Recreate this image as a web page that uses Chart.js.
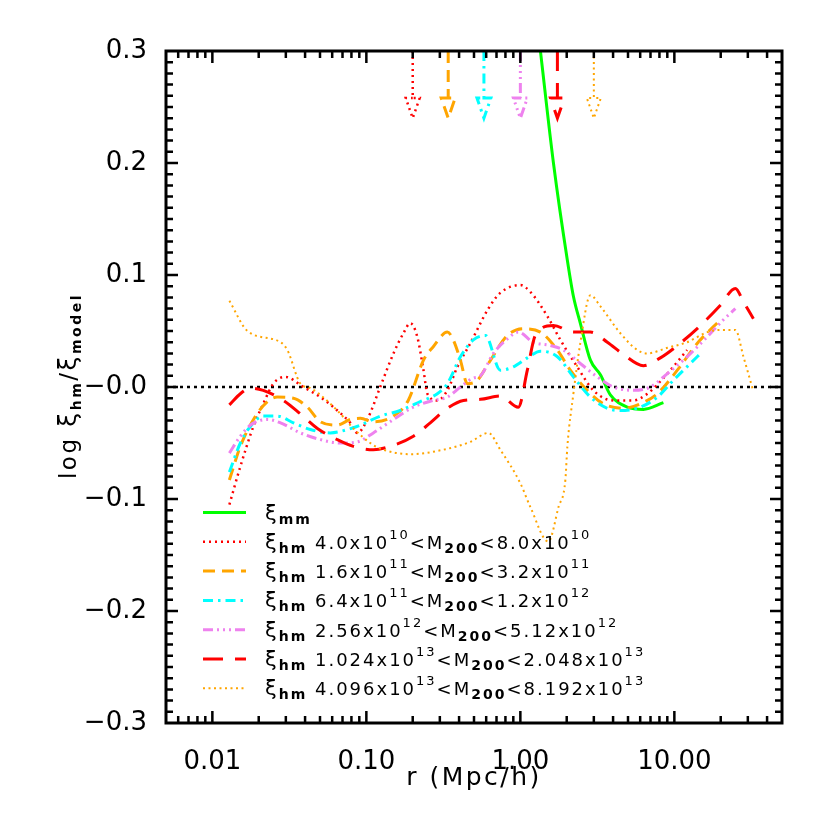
<!DOCTYPE html>
<html>
<head>
<meta charset="utf-8">
<title>log xi_hm / xi_model</title>
<script src="https://cdn.jsdelivr.net/npm/chart.js@4.4.1/dist/chart.umd.min.js"></script>
<style>
  html, body { margin: 0; padding: 0; background: #fff; }
  canvas { display: block; }
</style>
</head>
<body>
<canvas id="chart" width="830" height="830"></canvas>
<script>
// axes
const xRange = [0.005, 50];
const yRange = [-0.3, 0.3];
const xTickValues = [0.01, 0.1, 1, 10];
const xTickLabels = ["0.01", "0.10", "1.00", "10.00"];
const yTickValues = [-0.3, -0.2, -0.1, 0, 0.1, 0.2, 0.3];
const yTickLabels = ["\u22120.3", "\u22120.2", "\u22120.1", "\u22120.0", "0.1", "0.2", "0.3"];

// xi_mm
const rMm = [1.35, 1.64, 2.02, 2.21, 2.45, 2.85, 3.31, 3.84, 4.95, 6.29, 8.49];
const yMm = [0.30, 0.20, 0.113, 0.081, 0.057, 0.024, 0.011, -0.007, -0.018, -0.020, -0.014];

// xi_hm, 4.0e10 < M200 < 8.0e10
const rHm1 = [0.0129, 0.0152, 0.0185, 0.0214, 0.0249, 0.0298, 0.039, 0.0503, 0.0648, 0.0787, 0.0875, 0.1015, 0.123, 0.150, 0.174, 0.193, 0.214, 0.235, 0.249, 0.289, 0.336, 0.390, 0.473, 0.620, 0.741, 1.00, 1.16, 1.50, 1.82, 2.34, 2.98, 4.02, 5.42, 6.68, 9.01, 12.1];
const yHm1 = [-0.105, -0.071, -0.035, -0.015, 0.003, 0.009, 0.000, -0.009, -0.021, -0.032, -0.041, -0.029, 0.000, 0.030, 0.048, 0.057, 0.045, 0.015, -0.006, -0.012, -0.003, 0.018, 0.039, 0.070, 0.084, 0.091, 0.085, 0.063, 0.042, 0.018, -0.003, -0.012, -0.012, -0.006, 0.012, 0.033];

// xi_hm, 1.6e11 < M200 < 3.2e11
const rHm2 = [0.0129, 0.0152, 0.0185, 0.0228, 0.0264, 0.0336, 0.0414, 0.0503, 0.0648, 0.0787, 0.0915, 0.111, 0.150, 0.187, 0.235, 0.272, 0.336, 0.367, 0.408, 0.453, 0.526, 0.620, 0.824, 1.045, 1.35, 1.74, 2.11, 2.72, 3.46, 4.67, 6.01, 7.76, 10.45, 14.1, 19.9];
const yHm2 = [-0.083, -0.053, -0.029, -0.013, -0.009, -0.010, -0.018, -0.031, -0.034, -0.029, -0.028, -0.031, -0.026, -0.012, 0.024, 0.036, 0.049, 0.042, 0.024, 0.003, 0.006, 0.021, 0.046, 0.052, 0.049, 0.033, 0.015, -0.003, -0.015, -0.019, -0.015, -0.006, 0.015, 0.039, 0.060];

// xi_hm, 6.4e11 < M200 < 1.2e12
const rHm3 = [0.0129, 0.0152, 0.0177, 0.0214, 0.0264, 0.0336, 0.0433, 0.0583, 0.0753, 0.0915, 0.123, 0.166, 0.224, 0.289, 0.336, 0.408, 0.495, 0.593, 0.741, 0.901, 1.11, 1.35, 1.74, 2.21, 2.85, 3.67, 4.46, 6.01, 7.76, 9.86, 12.7, 14.8];
const yHm3 = [-0.076, -0.050, -0.035, -0.026, -0.026, -0.032, -0.038, -0.041, -0.038, -0.034, -0.026, -0.021, -0.013, -0.006, 0.003, 0.027, 0.042, 0.046, 0.015, 0.018, 0.026, 0.032, 0.027, 0.009, -0.009, -0.019, -0.021, -0.018, -0.009, 0.006, 0.021, 0.030];

// xi_hm, 2.56e12 < M200 < 5.12e12
const rHm4 = [0.0129, 0.0152, 0.0177, 0.0228, 0.0277, 0.0373, 0.0503, 0.0678, 0.0875, 0.111, 0.150, 0.202, 0.272, 0.336, 0.408, 0.495, 0.550, 0.668, 0.824, 0.970, 1.21, 1.57, 1.90, 2.45, 3.16, 4.02, 5.42, 6.98, 9.01, 12.1, 16.4, 20.8, 24.9];
const yHm4 = [-0.059, -0.044, -0.034, -0.029, -0.032, -0.041, -0.047, -0.050, -0.049, -0.041, -0.029, -0.018, -0.012, -0.009, 0.000, 0.008, 0.010, 0.030, 0.043, 0.049, 0.040, 0.037, 0.033, 0.021, 0.009, 0.000, -0.003, 0.000, 0.012, 0.027, 0.045, 0.060, 0.070];

// xi_hm, 1.024e13 < M200 < 2.048e13
const rHm5 = [0.0129, 0.0152, 0.0177, 0.0214, 0.0289, 0.0373, 0.0481, 0.0648, 0.0824, 0.111, 0.150, 0.202, 0.260, 0.336, 0.427, 0.550, 0.741, 0.970, 1.11, 1.25, 1.64, 2.21, 2.85, 3.67, 4.67, 6.29, 8.11, 10.9, 14.8, 19.9, 24.9, 28.1, 32.6];
const yHm5 = [-0.016, -0.006, -0.001, -0.003, -0.012, -0.024, -0.037, -0.047, -0.053, -0.056, -0.052, -0.044, -0.032, -0.019, -0.012, -0.011, -0.008, -0.018, 0.015, 0.046, 0.055, 0.049, 0.049, 0.040, 0.029, 0.019, 0.026, 0.039, 0.055, 0.073, 0.088, 0.076, 0.061];

// xi_hm, 4.096e13 < M200 < 8.192e13
const rHm6 = [0.0129, 0.0169, 0.0277, 0.0307, 0.0373, 0.0433, 0.0648, 0.0824, 0.106, 0.123, 0.193, 0.316, 0.473, 0.620, 0.741, 1.00, 1.16, 1.52, 1.77, 1.96, 2.02, 2.21, 2.45, 2.85, 3.31, 4.46, 5.75, 6.68, 9.01, 12.1, 16.4, 19.9, 24.9, 28.1, 32.6];
const yHm6 = [0.077, 0.050, 0.040, 0.033, 0.003, -0.001, -0.021, -0.037, -0.050, -0.055, -0.060, -0.056, -0.049, -0.041, -0.056, -0.086, -0.107, -0.138, -0.107, -0.083, -0.053, -0.006, 0.039, 0.082, 0.072, 0.048, 0.033, 0.030, 0.035, 0.040, 0.049, 0.051, 0.051, 0.027, -0.004];

// arrows at the top, one per halo mass bin
const arrowR = [0.2, 0.34, 0.58, 1.0, 1.74, 3.0];
const arrowY = [0.30, 0.258, 0.240]; // shaft top, head base, tip

const legendLabels = [
  "\u03be_{mm}",
  "\u03be_{hm} 4.0x10^{10}<M_{200}<8.0x10^{10}",
  "\u03be_{hm} 1.6x10^{11}<M_{200}<3.2x10^{11}",
  "\u03be_{hm} 6.4x10^{11}<M_{200}<1.2x10^{12}",
  "\u03be_{hm} 2.56x10^{12}<M_{200}<5.12x10^{12}",
  "\u03be_{hm} 1.024x10^{13}<M_{200}<2.048x10^{13}",
  "\u03be_{hm} 4.096x10^{13}<M_{200}<8.192x10^{13}",
];
const xTitle = "r (Mpc/h)";
const yTitle = "log \u03be_{hm}/\u03be_{model}";

const series = [[rMm, yMm], [rHm1, yHm1], [rHm2, yHm2], [rHm3, yHm3], [rHm4, yHm4], [rHm5, yHm5], [rHm6, yHm6]];
const styles = [
  { color: "#00ff00", dash: [], width: 3 },
  { color: "#ff0000", dash: [2, 4], width: 2.5 },
  { color: "#ffa500", dash: [12, 7], width: 3 },
  { color: "#00ffff", dash: [10, 5, 2.5, 5], width: 3 },
  { color: "#ee82ee", dash: [10, 4, 2, 4, 2, 4, 2, 4], width: 3 },
  { color: "#ff0000", dash: [20, 12], width: 3 },
  { color: "#ffa500", dash: [2, 3.5], width: 2 },
];

const FONT = '"DejaVu Sans", "Liberation Sans", sans-serif';

const toPoints = (xs, ys) => xs.map((x, i) => ({ x: x, y: ys[i] }));

const datasets = series.map(([xs, ys], i) => ({
  data: toPoints(xs, ys),
  borderColor: styles[i].color,
  borderDash: styles[i].dash,
  borderWidth: styles[i].width,
  showLine: true,
  pointRadius: 0,
  cubicInterpolationMode: "monotone",
  order: series.length - i,
}));

// arrow = shaft + open triangle head
arrowR.forEach((r, i) => {
  const k = 1.11;
  const s = styles[i + 1];
  datasets.push({
    data: [
      { x: r, y: arrowY[0] }, { x: r, y: arrowY[1] },
      { x: r * k, y: arrowY[1] }, { x: r, y: arrowY[2] },
      { x: r / k, y: arrowY[1] }, { x: r, y: arrowY[1] },
    ],
    borderColor: s.color,
    borderDash: s.dash,
    borderWidth: s.width,
    showLine: true,
    pointRadius: 0,
    order: 20,
  });
});

// dotted zero line
datasets.push({
  data: [{ x: xRange[0], y: 0 }, { x: xRange[1], y: 0 }],
  borderColor: "#000",
  borderDash: [3, 4],
  borderWidth: 2.5,
  showLine: true,
  pointRadius: 0,
  order: 50,
});

// text with _{sub} and ^{sup} parts, greek xi a bit larger
const drawRich = (ctx, text, x, y, f, align) => {
  const parts = [];
  const re = /([_^])\{([^}]*)\}|(\u03be)|([^_^\u03be]+)/g;
  let m;
  while ((m = re.exec(text))) {
    if (m[4]) parts.push({ t: m[4], font: f.main, dy: 0 });
    else if (m[3]) parts.push({ t: m[3], font: f.greek, dy: 0 });
    else if (m[1] === "_") parts.push({ t: m[2], font: f.sub, dy: f.subDy });
    else parts.push({ t: m[2], font: f.sup, dy: f.supDy });
  }
  ctx.letterSpacing = f.spacing + "px";
  let w = 0;
  parts.forEach((p) => {
    ctx.font = p.font;
    p.w = ctx.measureText(p.t).width;
    w += p.w;
  });
  let cx = align === "center" ? x - w / 2 : x;
  ctx.textAlign = "left";
  ctx.textBaseline = "alphabetic";
  parts.forEach((p) => {
    ctx.font = p.font;
    ctx.fillText(p.t, cx, y + p.dy);
    cx += p.w;
  });
  ctx.letterSpacing = "0px";
};

const legendFont = {
  main: "18px " + FONT, greek: "21px " + FONT, sub: "bold 14px " + FONT, sup: "13px " + FONT,
  subDy: 4, supDy: -10, spacing: 2,
};
const xTitleFont = {
  main: "25px " + FONT, greek: "25px " + FONT, sub: "bold 14px " + FONT, sup: "14px " + FONT,
  subDy: 5, supDy: -10, spacing: 2.5,
};
const yTitleFont = {
  main: "23px " + FONT, greek: "25px " + FONT, sub: "bold 14px " + FONT, sup: "14px " + FONT,
  subDy: 5, supDy: -10, spacing: 2.5,
};

const framePlugin = {
  id: "frame",
  afterDraw(chart) {
    const { ctx, chartArea: a, scales } = chart;
    const xs = scales.x, ys = scales.y;
    ctx.save();
    ctx.strokeStyle = "#000";
    ctx.setLineDash([]);
    ctx.lineWidth = 2.5;
    ctx.beginPath();
    for (let d = -3; d <= 1; d++) {
      for (let k = 1; k <= 9; k++) {
        const v = k * Math.pow(10, d);
        if (v <= xRange[0] * 1.0001 || v >= xRange[1] * 0.9999) continue;
        const px = xs.getPixelForValue(v);
        const len = k === 1 ? 12 : 7;
        ctx.moveTo(px, a.bottom); ctx.lineTo(px, a.bottom - len);
        ctx.moveTo(px, a.top); ctx.lineTo(px, a.top + len);
      }
    }
    for (let i = -29; i <= 29; i++) {
      const py = ys.getPixelForValue(i / 100);
      const len = i % 10 === 0 ? 12 : 7;
      ctx.moveTo(a.left, py); ctx.lineTo(a.left + len, py);
      ctx.moveTo(a.right, py); ctx.lineTo(a.right - len, py);
    }
    ctx.stroke();
    ctx.lineWidth = 3;
    ctx.strokeRect(a.left, a.top, a.right - a.left, a.bottom - a.top);

    // legend
    legendLabels.forEach((label, i) => {
      const ds = chart.data.datasets[i];
      const yy = 512.5 + i * 29.3;
      ctx.strokeStyle = ds.borderColor;
      ctx.lineWidth = ds.borderWidth;
      ctx.setLineDash(ds.borderDash);
      ctx.beginPath();
      ctx.moveTo(203, yy);
      ctx.lineTo(246, yy);
      ctx.stroke();
      ctx.setLineDash([]);
      ctx.fillStyle = "#000";
      drawRich(ctx, label, 265, yy + 7, legendFont, "left");
    });

    // axis titles
    ctx.fillStyle = "#000";
    drawRich(ctx, xTitle, (a.left + a.right) / 2, 785, xTitleFont, "center");
    ctx.save();
    ctx.translate(76, 386);
    ctx.rotate(-Math.PI / 2);
    drawRich(ctx, yTitle, 0, 0, yTitleFont, "center");
    ctx.restore();
    ctx.restore();
  },
};

new Chart(document.getElementById("chart").getContext("2d"), {
  type: "scatter",
  data: { datasets: datasets },
  options: {
    responsive: false,
    animation: false,
    devicePixelRatio: 1,
    layout: { padding: { top: 51, right: 48, bottom: 0, left: 0 } },
    plugins: { legend: { display: false }, tooltip: { enabled: false } },
    scales: {
      x: {
        type: "logarithmic",
        min: xRange[0],
        max: xRange[1],
        afterFit: (s) => { s.height = 107; },
        afterBuildTicks: (s) => { s.ticks = xTickValues.map((v) => ({ value: v })); },
        grid: { display: false },
        border: { display: false },
        ticks: {
          autoSkip: false,
          maxRotation: 0,
          padding: 16,
          color: "#000",
          font: { family: FONT, size: 26 },
          callback: (v, i) => xTickLabels[i],
        },
      },
      y: {
        type: "linear",
        min: yRange[0],
        max: yRange[1],
        afterFit: (s) => { s.width = 166; },
        afterBuildTicks: (s) => { s.ticks = yTickValues.map((v) => ({ value: v })); },
        grid: { display: false },
        border: { display: false },
        ticks: {
          padding: 11,
          color: "#000",
          font: { family: FONT, size: 26 },
          callback: (v, i) => yTickLabels[i],
        },
      },
    },
  },
  plugins: [framePlugin],
});
</script>
</body>
</html>
